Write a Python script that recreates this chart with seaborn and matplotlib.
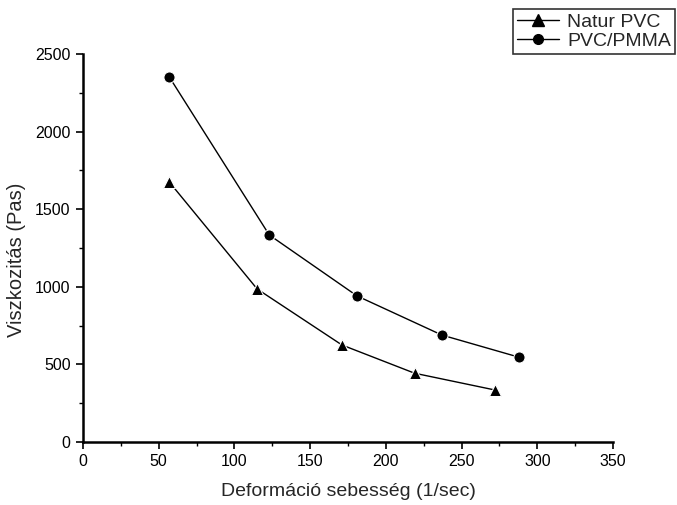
"""
Viscosity vs shear rate, Natur PVC and PVC/PMMA
"""

import pandas as pd
import matplotlib.pyplot as plt
import seaborn as sns
from matplotlib.ticker import MultipleLocator

natur_x = [57, 115, 171, 219, 272]
natur_y = [1675, 986, 625, 443, 335]
pmma_x = [57, 123, 181, 237, 288]
pmma_y = [2352, 1334, 941, 689, 546]
series_names = ["Natur PVC", "PVC/PMMA"]


def viscosity_plot():
    df = pd.concat([
        pd.DataFrame({"x": natur_x, "y": natur_y, "minta": series_names[0]}),
        pd.DataFrame({"x": pmma_x, "y": pmma_y, "minta": series_names[1]}),
    ])

    sns.set_style("ticks")
    plt.rcParams["font.family"] = ["Liberation Sans", "DejaVu Sans"]

    fig = plt.figure(figsize=(6.77, 5.05), dpi=100)
    ax = fig.add_axes([0.1226, 0.1248, 0.7829, 0.7682])

    sns.lineplot(data=df, x="x", y="y", hue="minta", style="minta",
                 markers={"Natur PVC": "^", "PVC/PMMA": "o"},
                 dashes=False, palette=["black", "black"], markersize=8,
                 linewidth=1.0, sort=False, ax=ax, legend=False)

    ax.set_xlim(0, 350)
    ax.set_ylim(0, 2500)
    ax.xaxis.set_major_locator(MultipleLocator(50))
    ax.xaxis.set_minor_locator(MultipleLocator(25))
    ax.yaxis.set_major_locator(MultipleLocator(500))
    ax.yaxis.set_minor_locator(MultipleLocator(250))
    ax.tick_params(which="major", length=5, width=1.2, labelsize=11.5,
                   color="black", labelcolor="black", pad=4)
    ax.tick_params(which="minor", length=3, width=1.0, color="black")

    for side in ["top", "right"]:
        ax.spines[side].set_visible(False)
    for side in ["left", "bottom"]:
        ax.spines[side].set_linewidth(1.8)
        ax.spines[side].set_color("black")

    ax.set_xlabel("Deformáció sebesség (1/sec)", fontsize=14, labelpad=10)
    ax.set_ylabel("Viszkozitás (Pas)", fontsize=14.5)
    ax.yaxis.set_label_coords(-0.107, 0.47)

    handles = [
        plt.Line2D([], [], color="black", marker="^", markersize=8, linewidth=1.0),
        plt.Line2D([], [], color="black", marker="o", markersize=7, linewidth=1.0),
    ]
    leg = fig.legend(handles, series_names, loc="upper right",
                     bbox_to_anchor=(0.997, 0.982), fontsize=14,
                     frameon=True, fancybox=False, handlelength=2.2,
                     handletextpad=0.4, borderpad=0.2, labelspacing=0.1,
                     borderaxespad=0.0)
    leg.get_frame().set_edgecolor("black")
    leg.get_frame().set_linewidth(1.2)

    fig.savefig("out.png", dpi=100)


if __name__ == "__main__":
    viscosity_plot()
